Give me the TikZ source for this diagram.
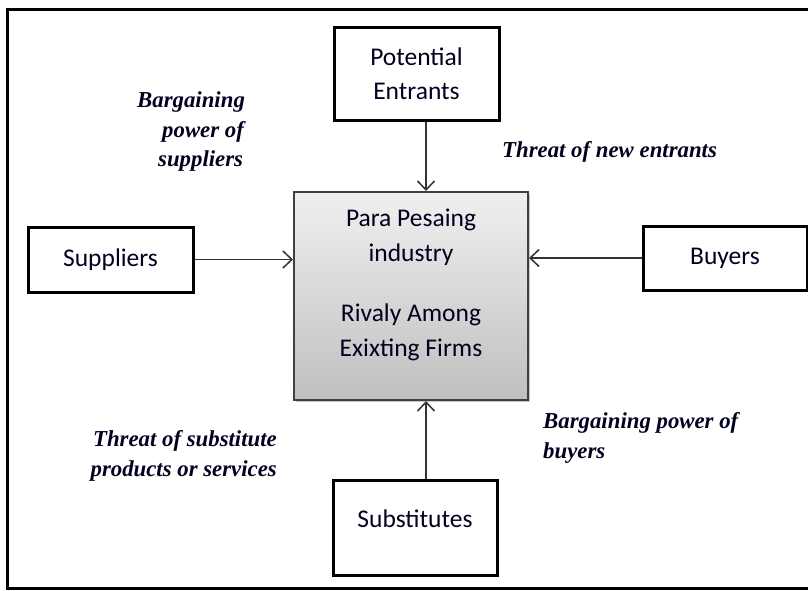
\documentclass[tikz,border=0pt]{standalone}
\usepackage{fontspec}
\setmainfont{Liberation Serif}
\newfontfamily\boxfont{Carlito}
\usetikzlibrary{arrows.meta,shadows}
\begin{document}
\begin{tikzpicture}[x=1pt,y=-1pt,
  boxnode/.style={draw=black, line width=3pt, fill=white, inner sep=0pt,
    font=\boxfont\fontsize{25.5}{34.5}\selectfont, align=center, text=black!88!blue},
  forcelabel/.style={font=\bfseries\itshape\fontsize{22.8}{29.5}\selectfont,
    text=black!88!blue, inner sep=0pt},
  arr/.style={draw=black!80, line width=1.5pt,
    -{Straight Barb[length=9pt,width=17pt,line width=1.5pt]}}]
  \useasboundingbox (0,0) rectangle (808,590);
  \begin{scope}
    \clip (0,0) rectangle (808,590);
    % outer frame (runs past the right edge)
    \draw[line width=3pt] (7,9) rectangle (830,588);
    % central box with soft gray gradient
    \node (core) [draw=black!75, line width=2pt, top color=black!6, bottom color=black!25,
      minimum width=234pt, minimum height=208pt, inner sep=0pt,
      drop shadow={shadow xshift=2pt, shadow yshift=-2pt, opacity=0.45}] at (411,296) {};
    \node (coretext) [font=\boxfont\fontsize{25.5}{34.5}\selectfont, align=center,
      text=black!88!blue] at (411,285)
      {Para Pesaing\\industry\\[26pt]Rivaly Among\\Exixting Firms};
    % surrounding forces
    \node (pe)  [boxnode, minimum width=165pt, minimum height=93pt] at (416.5,73.5) {Potential\\Entrants};
    \node (sup) [boxnode, minimum width=165pt, minimum height=65pt] at (110.5,259.5) {Suppliers};
    \node (buy) [boxnode, minimum width=164pt, minimum height=64pt] at (725,258) {Buyers};
    \node (sub) [boxnode, minimum width=164pt, minimum height=95pt] at (415,527.5)
      {\raisebox{9pt}[\height][\depth]{Substitutes}};
    % connectors
    \coordinate (ax) at (426,0);
    \draw[arr] (pe.south -| ax) -- (core.north -| ax);
    \draw[arr] (sub.north -| ax) -- (core.south -| ax);
    \draw[arr] (sup.east) -- (sup.east -| core.west);
    \draw[arr] (buy.west) -- (buy.west -| core.east);
    % force labels
    \node (lsup) [forcelabel, align=left, anchor=west] at (137,132)
      {Bargaining\\\hspace*{25pt}power of\\\hspace*{21pt}suppliers};
    \node (lpe) [forcelabel, anchor=west] at (502,152) {Threat of new entrants};
    \node (lsub) [forcelabel, align=right, anchor=east] at (277,456)
      {Threat of substitute\\products or services};
    \node (lbuy) [forcelabel, align=left, anchor=west] at (543,438)
      {Bargaining power of\\buyers};
  \end{scope}
\end{tikzpicture}
\end{document}
